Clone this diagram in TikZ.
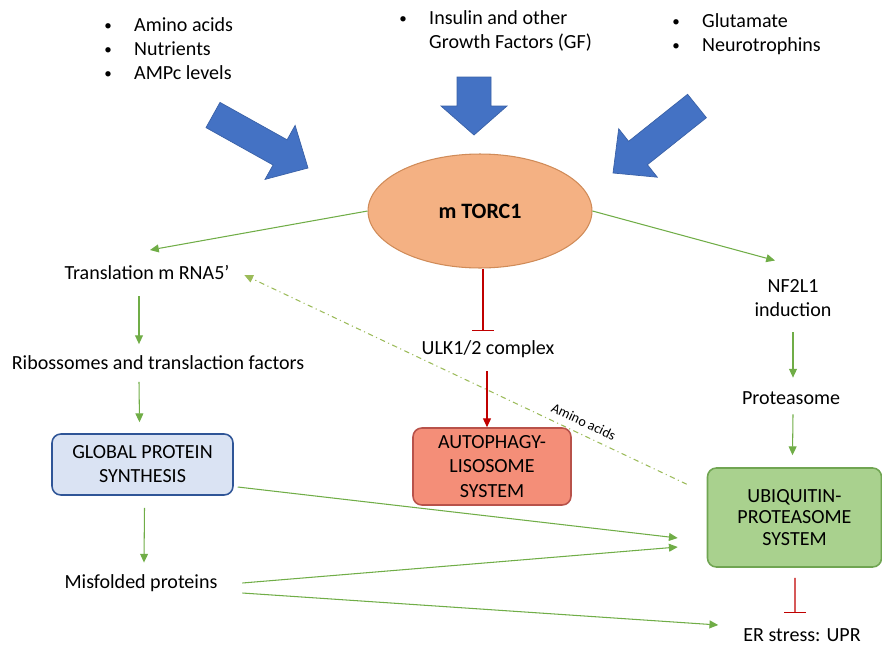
\documentclass[tikz,border=0pt]{standalone}
\usepackage{fontspec}
\setmainfont{Carlito}
\usetikzlibrary{arrows.meta, positioning, calc, shapes.geometric}

\definecolor{bigblue}{HTML}{4472C4}
\definecolor{torcfill}{HTML}{F4B183}
\definecolor{torcline}{HTML}{D08B58}
\definecolor{gpsfill}{HTML}{DAE3F3}
\definecolor{gpsline}{HTML}{2F5597}
\definecolor{autofill}{HTML}{F48E78}
\definecolor{autoline}{HTML}{B8524A}
\definecolor{ubqfill}{HTML}{A9D18E}
\definecolor{ubqline}{HTML}{70A552}
\definecolor{actgreen}{HTML}{70AD47}
\definecolor{inhred}{HTML}{C00000}
\definecolor{aaline}{HTML}{9BBB59}

\newcommand{\bitem}{\makebox[17pt][l]{\raisebox{0.6pt}{\scalebox{0.75}{\textbullet}}}}

\tikzset{
  lbl/.style={font=\fontsize{11.4}{13.7}\selectfont, align=center, inner sep=2pt},
  sysbox/.style={lbl, rounded corners=5pt, line width=0.9pt, inner sep=0pt},
  garrow/.style={draw=actgreen, line width=0.6pt, -{Triangle[length=5pt, width=4.5pt]}},
  inhib/.style={draw=inhred, line width=0.6pt, -{Bar[width=12pt, line width=0.6pt]}},
  bigarrow/.style={fill=bigblue, draw=bigblue!85!black, line width=0.4pt},
}

\begin{document}
\begin{tikzpicture}[x=0.02cm, y=-0.02cm]
  \useasboundingbox (0,0) rectangle (882,646);

  % inputs
  \node[lbl, align=left, anchor=north west, inner sep=0pt] (in1) at (104,17)
    {\bitem Amino acids\\ \bitem Nutrients\\ \bitem AMPc levels};
  \node[lbl, align=left, anchor=north west, inner sep=0pt] (in2) at (399,10)
    {\bitem Insulin and other\\ \hspace*{17pt}Growth Factors (GF)};
  \node[lbl, align=left, anchor=north west, inner sep=0pt] (in3) at (672,13)
    {\bitem Glutamate\\ \bitem Neurotrophins};

  \fill[bigarrow] (206,127.6) -- (273.1,165.0) -- (265.0,179.4) -- (308,168)
    -- (295.1,125.4) -- (287.1,139.8) -- (220,102.4) -- cycle;
  \fill[bigarrow] (457,77) -- (457,106) -- (441,106) -- (474,135)
    -- (507,106) -- (491,106) -- (491,77) -- cycle;
  \fill[bigarrow] (687.6,94.3) -- (628.6,141.3) -- (618.7,128.8) -- (613,173)
    -- (657.3,177.2) -- (647.4,164.7) -- (706.4,117.7) -- cycle;

  % mTORC1
  \node[ellipse, fill=torcfill, draw=torcline, line width=0.6pt,
        minimum width=4.48cm, minimum height=2.28cm, inner sep=0pt,
        font=\fontsize{12.5}{15}\selectfont\bfseries] (torc) at (480,211) {m TORC1};

  % left branch
  \node[lbl] (trans) at (147,273) {Translation m RNA5’};
  \node[lbl] (ribo) at (158,363) {Ribossomes and translaction factors};
  \node[sysbox, fill=gpsfill, draw=gpsline, minimum width=3.62cm,
        minimum height=1.22cm] (gps) at (142.5,464.5) {GLOBAL PROTEIN\\SYNTHESIS};
  \node[lbl] (mis) at (141,583) {Misfolded proteins};

  % middle branch
  \node[lbl] (ulk) at (488,349) {ULK1/2 complex};
  \node[sysbox, fill=autofill, draw=autoline, minimum width=3.16cm,
        minimum height=1.54cm] (auto) at (492,466.5) {AUTOPHAGY-\\LISOSOME\\SYSTEM};

  % right branch
  \node[lbl] (nf) at (793,298) {NF2L1\\induction};
  \node[lbl] (prot) at (791,398) {Proteasome};
  \node[sysbox, fill=ubqfill, draw=ubqline, minimum width=3.48cm,
        minimum height=1.98cm, font=\fontsize{11.4}{12.4}\selectfont]
        (ubq) at (794.5,517.5) {UBIQUITIN-\\PROTEASOME\\SYSTEM};
  \node[lbl, inner sep=1pt] (er) at (802,635) {ER stress: UPR};

  \coordinate (ubqin1) at ($(ubq.west)+(-29,20.5)$);
  \coordinate (ubqin2) at ($(ubq.west)+(-29,29.5)$);
  \coordinate (erin) at ($(er.west)+(-23,-10)$);

  \draw[garrow] (torc.west) -- ($(trans.north)+(3,-12)$);
  \draw[garrow] ($(trans.south)+(-8,12)$) -- ($(ribo.north)+(-19,-8)$);
  \draw[garrow] ($(ribo.south)+(-19,8)$) -- ($(gps.north)+(-3,-11)$);
  \draw[garrow] ($(gps.south)+(2,12)$) -- ($(mis.north)+(3,-8)$);

  \draw[inhib] (torc.south -| 483,0) -- (483,331);
  \draw[->, >={Triangle[length=5pt, width=4.5pt]}, inhred, line width=0.6pt]
    ($(ulk.south)+(-1,10)$) -- (auto.north -| 487,0);

  \draw[garrow] (torc.east) -- ($(nf.north)+(-18,-15)$);
  \draw[garrow] ($(nf.south)+(0,12)$) -- ($(prot.north)+(2,-10)$);
  \draw[garrow] ($(prot.south)+(2,6)$) -- ($(ubq.north)+(-2,-12)$);
  \draw[inhib] ($(ubq.south)+(0.5,10)$) -- ($(er.north)+(-7,-13)$);

  \draw[garrow] ($(gps.east)+(4,22.5)$) -- (ubqin1);
  \draw[garrow] ($(mis.east)+(21,0)$) -- (ubqin2);
  \draw[garrow] ($(mis.east)+(21,10)$) -- (erin);

  \draw[draw=aaline, line width=0.6pt, dash dot, -{Triangle[length=5pt, width=4.5pt]}]
    ($(ubq.north west)+(-20,17)$) -- node[pos=0.245, above=4pt, sloped,
      font=\fontsize{8}{9}\selectfont, inner sep=0pt] (aa) {Amino acids}
    ($(trans.east)+(11,2)$);
\end{tikzpicture}
\end{document}
